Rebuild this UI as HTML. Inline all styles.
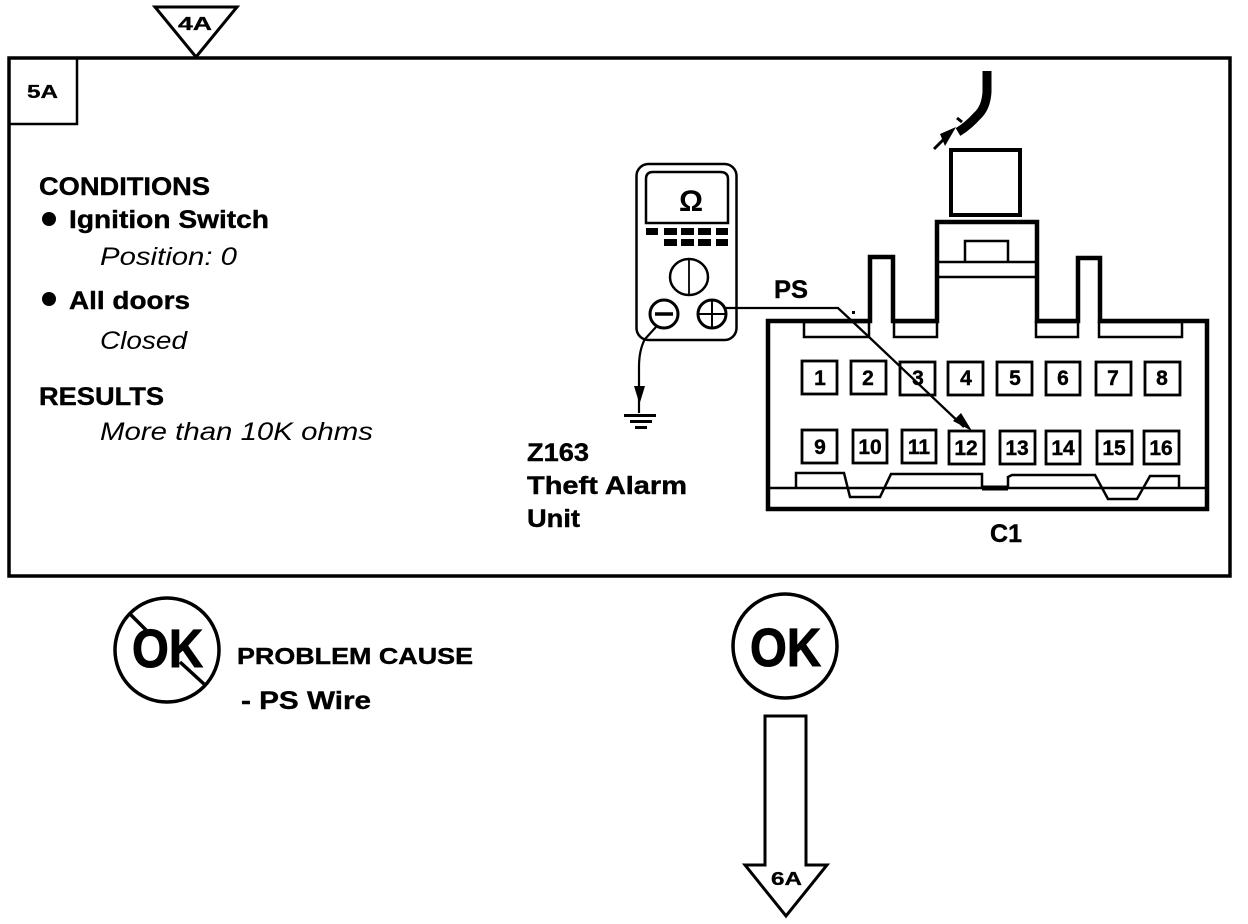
<!DOCTYPE html>
<html><head><meta charset="utf-8"><style>
html,body{margin:0;padding:0;background:#fff}
svg{display:block}
text{font-family:"Liberation Sans",sans-serif;fill:#000}
.b{font-weight:bold;font-size:25px;stroke:#000;stroke-width:.4px}
.i{font-style:italic;font-size:25px}
.n{font-weight:bold;font-size:21px;text-anchor:middle;stroke:#000;stroke-width:.4px}
.s{font-weight:bold;font-size:18px;stroke:#000;stroke-width:.3px}
.ok{font-weight:bold;font-size:54px;stroke:#000;stroke-width:1px}
</style></head><body>
<svg width="1248" height="924" viewBox="0 0 1248 924" xmlns="http://www.w3.org/2000/svg">
<g fill="none" stroke="#000" stroke-width="3">
<rect x="9" y="58" width="1221" height="518" stroke-width="3.5"/>
<path d="M9 124H77V58" stroke-width="2.5"/>
<path d="M155 7H237L196 57Z"/>
</g>
<text class="s" x="178" y="30" textLength="34" lengthAdjust="spacingAndGlyphs">4A</text>
<text class="s" x="27" y="98" textLength="31" lengthAdjust="spacingAndGlyphs">5A</text>
<text class="b" x="39" y="195" textLength="171" lengthAdjust="spacingAndGlyphs">CONDITIONS</text>
<circle cx="49" cy="219" r="7"/>
<text class="b" x="69" y="228" textLength="200" lengthAdjust="spacingAndGlyphs">Ignition Switch</text>
<text class="i" x="100" y="265" textLength="137" lengthAdjust="spacingAndGlyphs">Position: 0</text>
<circle cx="49" cy="299" r="7"/>
<text class="b" x="69" y="309" textLength="121" lengthAdjust="spacingAndGlyphs">All doors</text>
<text class="i" x="100" y="349" textLength="87" lengthAdjust="spacingAndGlyphs">Closed</text>
<text class="b" x="39" y="405" textLength="125" lengthAdjust="spacingAndGlyphs">RESULTS</text>
<text class="i" x="100" y="440" textLength="273" lengthAdjust="spacingAndGlyphs">More than 10K ohms</text>
<text class="b" x="527" y="461" textLength="62" lengthAdjust="spacingAndGlyphs">Z163</text>
<text class="b" x="527" y="494" textLength="160" lengthAdjust="spacingAndGlyphs">Theft Alarm</text>
<text class="b" x="527" y="527" textLength="53" lengthAdjust="spacingAndGlyphs">Unit</text>
<text class="b" x="990" y="542" textLength="32" lengthAdjust="spacingAndGlyphs">C1</text>
<text class="b" x="774" y="298" textLength="34" lengthAdjust="spacingAndGlyphs">PS</text>

<!-- meter -->
<g fill="none" stroke="#000" stroke-width="2.5">
<rect x="636.5" y="164" width="100" height="176" rx="12"/>
<path d="M646 223V179Q646 172 653 172H720Q728 172 728 179V223Z"/>
<ellipse cx="689" cy="277" rx="19" ry="18"/>
<path d="M689 259V295" stroke-width="1.8"/>
<circle cx="664" cy="314" r="14" stroke-width="3"/>
<path d="M655 314H673" stroke-width="3.5"/>
<circle cx="712" cy="314" r="14" stroke-width="3"/>
<path d="M698 314H726M712 300V328" stroke-width="2"/>
<path d="M725 308H838L853 322L869 337L964 427" stroke-width="2.3"/>
<path d="M656 327L645 339Q639 350 639 367V413" stroke-width="2.2"/>
</g>
<g fill="#000">
<path d="M634 386H645L639.5 404Z"/>
<path d="M624 414H656V417H624ZM630 420H652V423H630ZM635 426H647V429H635Z"/>
<path d="M953 421L961 413L972 431Z"/>
<rect x="852" y="311" width="3" height="3"/>
<path d="M646 228h12v7h-12zM664 228h13v7h-13zM681 228h13v7h-13zM698 228h13v7h-13zM716 228h12v7h-12zM664 239h13v7h-13zM681 239h13v7h-13zM698 239h13v7h-13zM716 239h12v7h-12z"/>
</g>
<text x="691" y="211" text-anchor="middle" style="font-weight:bold;font-size:30px">Ω</text>

<!-- connector -->
<g fill="none" stroke="#000">
<rect x="951" y="150" width="69" height="65" stroke-width="4"/>
<path d="M987 71V92Q986 108 977 116Q968 126 958 132" stroke-width="9"/>
<path d="M934 149L945 138" stroke-width="3"/>
<path d="M957 118L962 122" stroke-width="3"/>
<path d="M768 509V321H870V257H893V321H937V222H1037V321H1078V258H1100V321H1207V509Z" stroke-width="4.5"/>
<path d="M937 262H1037M937 277H1037" stroke-width="2.5"/>
<path d="M965 261V241H1008V261" stroke-width="2.5"/>
<path d="M770 488H1205" stroke-width="2.5"/>
<rect x="804" y="322" width="65" height="15" stroke-width="2.5"/>
<rect x="894" y="322" width="43" height="15" stroke-width="2.5"/>
<rect x="1036" y="322" width="42" height="15" stroke-width="2.5"/>
<rect x="1099" y="322" width="83" height="15" stroke-width="2.5"/>
<path d="M796 487V473H844L850 497H880L891 474H982V487M1008 487V477L1012 475H1095L1108 499H1137L1150 476H1179V488" stroke-width="2.5"/>
<path d="M982 488H1008" stroke-width="5"/>
</g>
<path d="M956 127L940 134L945 146Z" fill="#000"/>
<g fill="none" stroke="#000" stroke-width="2.8">
<rect x="802" y="361" width="35" height="33"/><rect x="851" y="361" width="35" height="33"/>
<rect x="900" y="362" width="35" height="33"/><rect x="948" y="362" width="35" height="33"/>
<rect x="997" y="362" width="35" height="33"/><rect x="1046" y="362" width="34" height="33"/>
<rect x="1096" y="362" width="35" height="33"/><rect x="1145" y="362" width="35" height="33"/>
<rect x="802" y="430" width="35" height="33"/><rect x="853" y="430" width="34" height="33"/>
<rect x="902" y="430" width="34" height="33"/><rect x="949" y="431" width="35" height="33"/>
<rect x="1000" y="431" width="35" height="33"/><rect x="1046" y="431" width="34" height="33"/>
<rect x="1097" y="431" width="35" height="33"/><rect x="1144" y="431" width="35" height="33"/>
</g>
<text class="n" x="820" y="385">1</text><text class="n" x="868" y="385">2</text>
<text class="n" x="918" y="385">3</text><text class="n" x="966" y="385">4</text>
<text class="n" x="1015" y="385">5</text><text class="n" x="1063" y="385">6</text>
<text class="n" x="1113" y="385">7</text><text class="n" x="1162" y="385">8</text>
<text class="n" x="820" y="454">9</text><text class="n" x="870" y="454">10</text>
<text class="n" x="919" y="454">11</text><text class="n" x="966" y="455">12</text>
<text class="n" x="1017" y="455">13</text><text class="n" x="1063" y="455">14</text>
<text class="n" x="1114" y="455">15</text><text class="n" x="1161" y="455">16</text>

<!-- OK marks -->
<circle cx="785" cy="646" r="52" fill="none" stroke="#000" stroke-width="3.5"/>
<text class="ok" x="750" y="666" textLength="71" lengthAdjust="spacingAndGlyphs">OK</text>
<circle cx="167" cy="650" r="52" fill="none" stroke="#000" stroke-width="3.5"/>
<text class="ok" x="132" y="667" textLength="71" lengthAdjust="spacingAndGlyphs">OK</text>
<path d="M130 614L148 632M180 662L204 684" stroke="#000" stroke-width="3.5" fill="none"/>
<text class="b" x="237" y="664" textLength="236" lengthAdjust="spacingAndGlyphs" style="font-size:23px">PROBLEM CAUSE</text>
<text class="b" x="241" y="709" textLength="130" lengthAdjust="spacingAndGlyphs">- PS Wire</text>
<path d="M765 716H806V865H827L786 916L745 865H765Z" fill="none" stroke="#000" stroke-width="3"/>
<text class="s" x="771" y="885" textLength="31" lengthAdjust="spacingAndGlyphs">6A</text>
</svg>
</body></html>
